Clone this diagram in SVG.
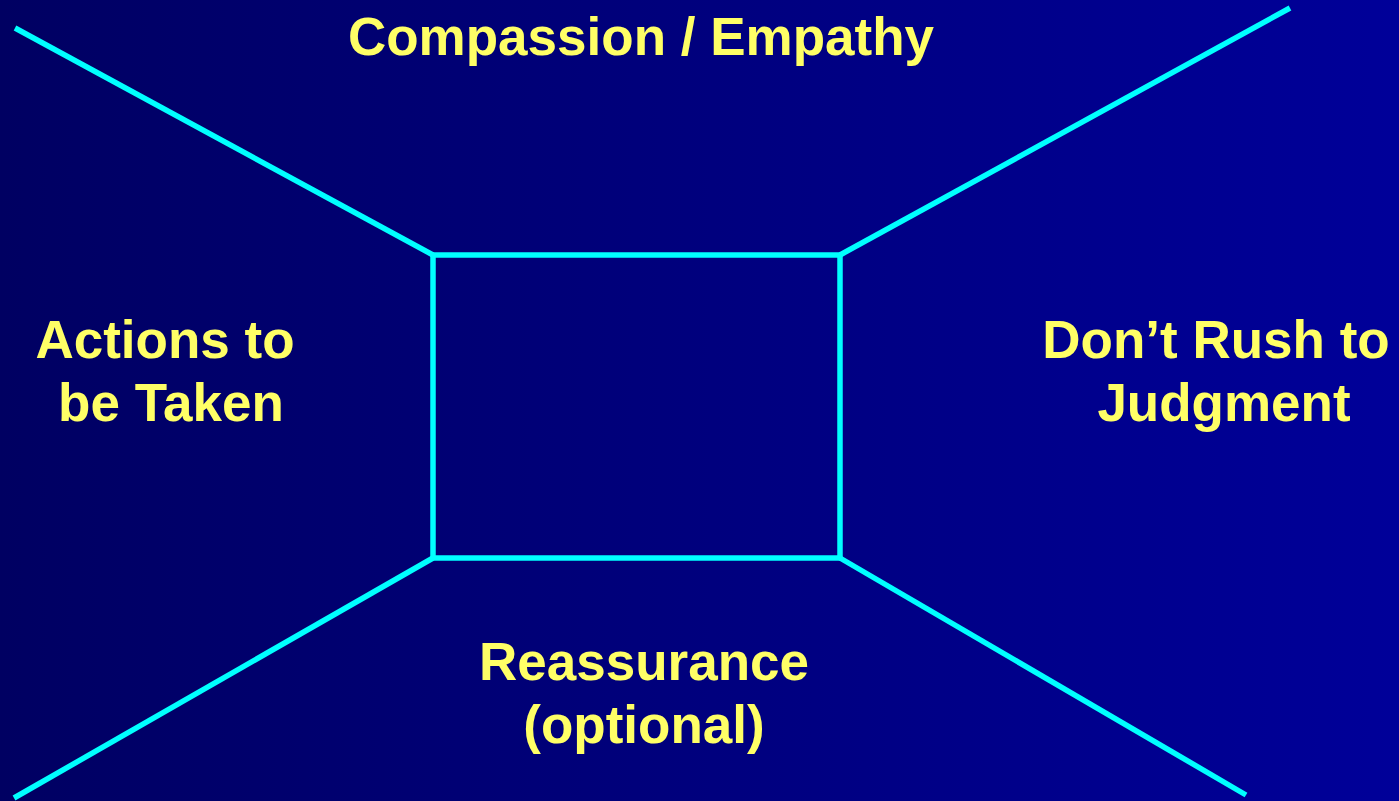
<svg xmlns="http://www.w3.org/2000/svg" width="1399" height="801" viewBox="0 0 1399 801">
  <defs>
    <linearGradient id="bg" x1="0" y1="0" x2="1" y2="0">
      <stop offset="0" stop-color="#000062"/>
      <stop offset="1" stop-color="#000099"/>
    </linearGradient>
    <style>
      .edge { stroke: #00FFFF; stroke-width: 5.5; fill: none; stroke-linejoin: miter; }
      .label { font-family: "Liberation Sans", Arial, sans-serif; font-weight: bold; font-size: 53px; fill: #FFFF66; text-anchor: middle; }
    </style>
  </defs>
  <rect x="0" y="0" width="1399" height="801" fill="url(#bg)"/>

  <g id="connectors">
    <line class="edge" x1="15" y1="28" x2="433" y2="255"/>
    <line class="edge" x1="840" y1="255" x2="1290" y2="8"/>
    <line class="edge" x1="14" y1="798" x2="433" y2="558"/>
    <line class="edge" x1="840" y1="558" x2="1246" y2="795"/>
  </g>

  <g id="center-box">
    <rect class="edge" x="433" y="255" width="407" height="303"/>
  </g>

  <g id="top-label">
    <text class="label" x="641" y="55">Compassion / Empathy</text>
  </g>
  <g id="left-label">
    <text class="label" x="165" y="358">Actions to</text>
    <text class="label" x="171" y="421">be Taken</text>
  </g>
  <g id="right-label">
    <text class="label" x="1216" y="358">Don’t Rush to</text>
    <text class="label" x="1224" y="421">Judgment</text>
  </g>
  <g id="bottom-label">
    <text class="label" x="644" y="680">Reassurance</text>
    <text class="label" x="644" y="743">(optional)</text>
  </g>
</svg>
